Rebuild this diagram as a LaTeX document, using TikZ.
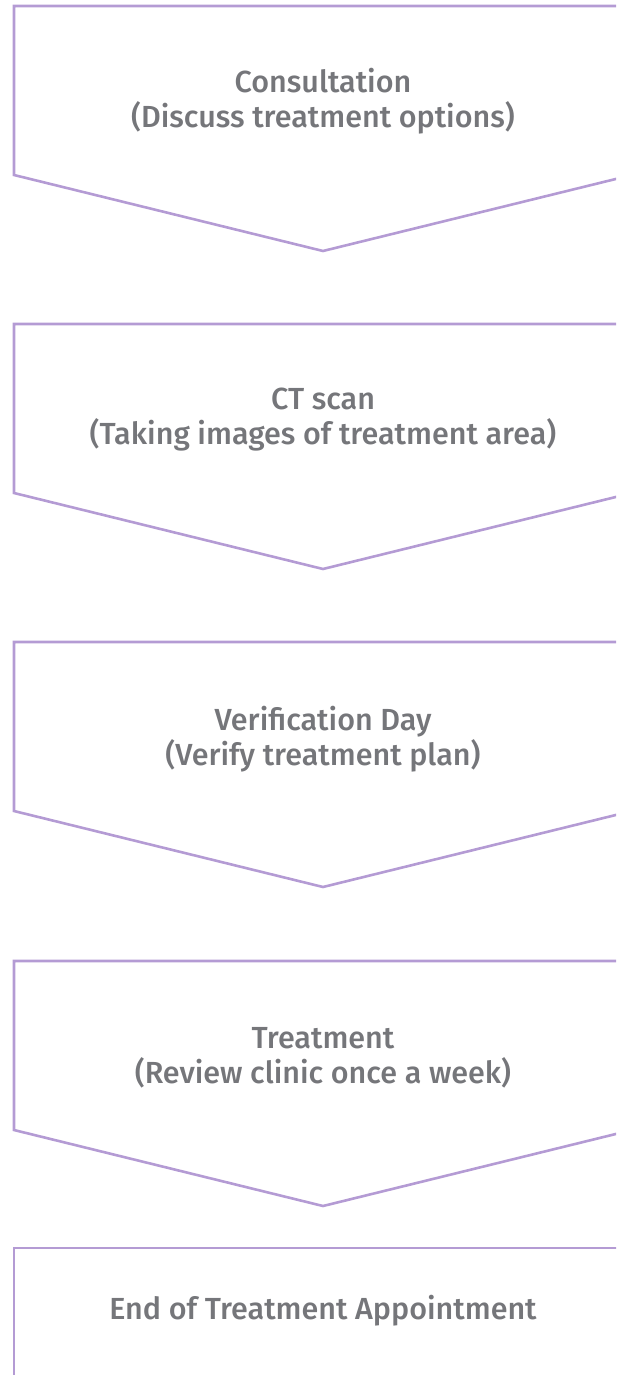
\documentclass[tikz,border=0pt]{standalone}
\usepackage{fontspec}
\setmainfont{Fira Sans Medium}
\definecolor{lineP}{HTML}{B49BD4}
\definecolor{txtG}{HTML}{75767A}
\begin{document}
\begin{tikzpicture}[x=1pt,y=-1pt,
  chev/.style={draw=lineP,line width=2.6pt,line join=miter},
  lbl/.style={text=txtG,font=\fontsize{30.5}{35}\selectfont,align=center,inner sep=0pt}]
\useasboundingbox (0,0) rectangle (616,1375);
\clip (0,0) rectangle (616,1375);
\foreach \t/\i in {6/1,324/2,642/3,961/4}{
  \draw[chev] (14,\t) -- (632,\t) -- (632,\t+169) -- (323,\t+245) -- (14,\t+169) -- cycle;
}
\draw[chev] (14,1400) -- (14,1248) -- (640,1248);
\node[lbl] (n1) at (323,101) {Consultation\\(Discuss treatment options)};
\node[lbl] (n2) at (323,420) {CT scan\\(Taking images of treatment area)};
\node[lbl] (n3) at (323,739) {Verification Day\\(Verify treatment plan)};
\node[lbl] (n4) at (323,1058) {Treatment\\(Review clinic once a week)};
\node[lbl] (n5) at (323,1311) {End of Treatment Appointment};
\end{tikzpicture}
\end{document}
